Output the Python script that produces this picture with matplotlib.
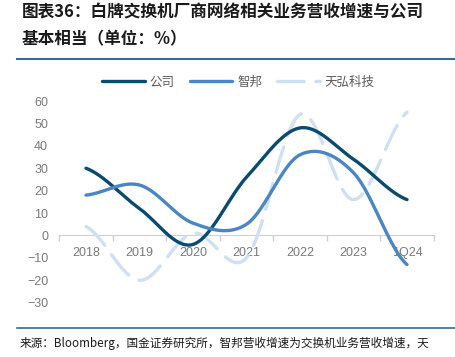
import numpy as np
import matplotlib.pyplot as plt
from matplotlib.lines import Line2D

# categories and series (growth, %)
years = ["2018", "2019", "2020", "2021", "2022", "2023", "1Q24"]
company = [30, 12, -4, 26, 48, 34, 16]
accton = [18, 22.5, 5.5, 5, 36, 28, -13]
celestica = [4, -20, 1, -10, 54, 16, 55]

title = "图表36：白牌交换机厂商网络相关业务营收增速与公司\n基本相当（单位：%）"
source = "来源：Bloomberg，国金证券研究所，智邦营收增速为交换机业务营收增速，天"

c_dark = "#0b4a6f"
c_mid = "#4a85c4"
c_light = "#cfe0f2"
cjk = ["Noto Sans CJK SC", "DejaVu Sans"]


def smooth(y, n=40):
    # catmull-rom curve through the points (like excel smoothed lines)
    y = np.asarray(y, float)
    p = np.concatenate([[y[0]], y, [y[-1]]])
    xs, ys = [], []
    for i in range(len(y) - 1):
        t = np.linspace(0, 1, n, endpoint=False)
        p0, p1, p2, p3 = p[i], p[i + 1], p[i + 2], p[i + 3]
        m1 = (p2 - p0) / 2
        m2 = (p3 - p1) / 2
        h00 = 2 * t**3 - 3 * t**2 + 1
        h10 = t**3 - 2 * t**2 + t
        h01 = -2 * t**3 + 3 * t**2
        h11 = t**3 - t**2
        xs.append(i + t)
        ys.append(h00 * p1 + h10 * m1 + h01 * p2 + h11 * m2)
    xs.append([len(y) - 1])
    ys.append([y[-1]])
    return np.concatenate(xs), np.concatenate(ys)


fig = plt.figure(figsize=(4.55, 3.57), dpi=100, facecolor="w")
ax = fig.add_axes([59.25 / 455, 1 - 302.7 / 357, 374.5 / 455, (302.7 - 101) / 357])

x, y = smooth(company)
ax.plot(x, y, color=c_dark, lw=2.4, solid_capstyle="round", zorder=3)
x, y = smooth(accton)
ax.plot(x, y, color=c_mid, lw=2.4, solid_capstyle="round", zorder=3)
x, y = smooth(celestica)
ax.plot(x, y, color=c_light, lw=2.4, dashes=(8, 3.5), dash_capstyle="round", zorder=2)

ax.set_xlim(-0.5, len(years) - 0.5)
ax.set_ylim(-30, 60)
ax.set_yticks(range(-30, 61, 10))
ax.set_xticks(range(len(years)))
ax.set_xticklabels(years)
ax.set_xticks(np.arange(-0.5, len(years), 1), minor=True)

for s in ["top", "right", "left"]:
    ax.spines[s].set_visible(False)
ax.spines["bottom"].set_position(("data", 0))
ax.spines["bottom"].set_color("#d0d0d0")
ax.spines["bottom"].set_zorder(1)
ax.tick_params(axis="y", length=0, pad=8, labelsize=9, labelcolor="#7a7a7a")
ax.tick_params(axis="x", which="major", length=0, pad=8, labelsize=9, labelcolor="#7a7a7a")
ax.tick_params(axis="x", which="minor", length=4, width=1, color="#d0d0d0")
for t in ax.get_xticklabels() + ax.get_yticklabels():
    t.set_fontfamily("Liberation Sans")

handles = [
    Line2D([], [], color=c_dark, lw=2.4, solid_capstyle="round"),
    Line2D([], [], color=c_mid, lw=2.4, solid_capstyle="round"),
    Line2D([], [], color=c_light, lw=2.4, dashes=(8, 3.5), dash_capstyle="round"),
]
leg = fig.legend(handles, ["公司", "智邦", "天弘科技"], loc="center",
                 bbox_to_anchor=(238.5 / 455, 1 - 82 / 357), ncol=3, frameon=False,
                 prop={"family": cjk, "size": 9}, handlelength=3.4,
                 columnspacing=1.2, handletextpad=0.4)
for t in leg.get_texts():
    t.set_color("#595959")

fig.text(22 / 455, 1 - 3 / 357, title, ha="left", va="top", fontsize=12,
         fontweight="bold", fontstyle="italic", family=cjk, color="#1a1a1a",
         linespacing=1.65)
fig.add_artist(Line2D([17 / 455, 1], [1 - 59 / 357] * 2, color="#3d6a8a", lw=1.5))
fig.add_artist(Line2D([17 / 455, 1], [1 - 328 / 357] * 2, color="#3d6a8a", lw=1.2))
fig.text(20 / 455, 1 - 343 / 357, source, ha="left", va="center", fontsize=8.4,
         family=cjk, color="#1a1a1a")

fig.savefig("out.png", dpi=100, facecolor="w")
